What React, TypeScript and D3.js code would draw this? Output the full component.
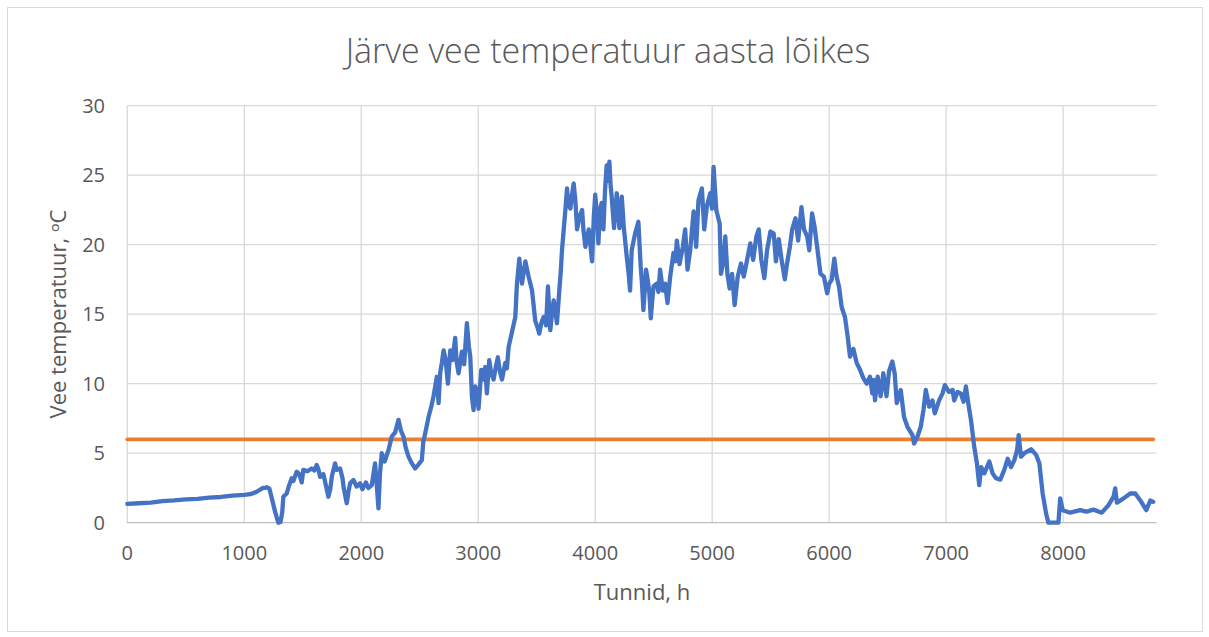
import React from "react";
import * as d3 from "d3";

const hours = [
  0, 100, 200, 300, 400, 500, 600, 700, 800, 900, 1000, 1050, 1100, 1120, 1150, 1160, 1180, 1190, 1215, 1240,
  1260, 1280, 1291, 1310, 1325, 1334, 1363, 1380, 1405, 1420, 1448, 1470, 1491, 1505, 1540, 1576, 1600, 1619, 1635, 1648,
  1676, 1700, 1719, 1735, 1748, 1776, 1790, 1819, 1840, 1850, 1876, 1890, 1905, 1933, 1960, 1990, 2010, 2040, 2060, 2090,
  2118, 2130, 2147, 2160, 2175, 2200, 2232, 2261, 2290, 2318, 2340, 2361, 2380, 2404, 2430, 2461, 2490, 2518, 2530, 2546,
  2575, 2600, 2618, 2646, 2661, 2675, 2689, 2704, 2720, 2741, 2761, 2780, 2803, 2815, 2832, 2860, 2880, 2903, 2920, 2932,
  2946, 2960, 2975, 2990, 3003, 3026, 3045, 3060, 3074, 3094, 3110, 3131, 3150, 3168, 3185, 3203, 3231, 3245, 3260, 3288,
  3317, 3331, 3351, 3362, 3374, 3403, 3431, 3460, 3488, 3505, 3522, 3540, 3559, 3580, 3596, 3616, 3630, 3645, 3673, 3693,
  3705, 3716, 3730, 3745, 3759, 3770, 3788, 3800, 3816, 3830, 3845, 3865, 3888, 3900, 3916, 3930, 3945, 3973, 3988, 4000,
  4015, 4027, 4041, 4055, 4070, 4084, 4098, 4110, 4121, 4132, 4141, 4161, 4172, 4184, 4207, 4227, 4245, 4270, 4285, 4298,
  4312, 4341, 4369, 4389, 4400, 4412, 4435, 4450, 4463, 4475, 4498, 4526, 4540, 4555, 4578, 4598, 4618, 4641, 4669, 4685,
  4698, 4721, 4749, 4769, 4789, 4812, 4841, 4863, 4883, 4912, 4932, 4955, 4983, 4998, 5012, 5035, 5064, 5075, 5098, 5112,
  5130, 5149, 5170, 5192, 5218, 5246, 5270, 5298, 5326, 5350, 5378, 5398, 5420, 5446, 5469, 5498, 5526, 5545, 5569, 5598,
  5621, 5640, 5664, 5684, 5712, 5735, 5763, 5785, 5812, 5830, 5854, 5875, 5897, 5926, 5955, 5983, 6000, 6021, 6044, 6064,
  6084, 6107, 6135, 6158, 6178, 6207, 6235, 6264, 6292, 6321, 6349, 6369, 6380, 6392, 6415, 6440, 6463, 6490, 6512, 6540,
  6560, 6578, 6612, 6640, 6669, 6712, 6726, 6755, 6783, 6806, 6826, 6855, 6883, 6903, 6940, 6969, 6989, 7026, 7055, 7069,
  7097, 7125, 7149, 7169, 7189, 7212, 7240, 7263, 7283, 7300, 7326, 7369, 7397, 7426, 7463, 7497, 7526, 7555, 7583, 7606,
  7620, 7640, 7668, 7726, 7768, 7797, 7825, 7854, 7874, 7960, 7975, 7997, 8060, 8145, 8200, 8260, 8331, 8388, 8431, 8445,
  8460, 8517, 8574, 8617, 8660, 8711, 8745, 8770,
];

const temps = [
  1.35, 1.4, 1.45, 1.55, 1.6, 1.68, 1.72, 1.8, 1.85, 1.95, 2.0, 2.05, 2.2, 2.3, 2.45, 2.5, 2.5, 2.55, 2.45, 1.6,
  0.9, 0.3, 0.0, 0.05, 0.8, 1.87, 2.1, 2.6, 3.2, 3.0, 3.67, 3.5, 2.9, 3.8, 3.7, 3.9, 3.75, 4.15, 3.8, 3.3,
  3.5, 2.6, 1.87, 2.4, 3.3, 4.27, 3.8, 3.9, 3.2, 2.5, 1.4, 2.2, 2.83, 3.07, 2.6, 2.83, 2.4, 2.9, 2.5, 2.7,
  4.27, 3.0, 1.03, 3.5, 5.0, 4.4, 5.2, 6.2, 6.5, 7.4, 6.6, 6.2, 5.4, 4.75, 4.3, 3.9, 4.2, 4.5, 5.8, 6.4,
  7.6, 8.4, 9.1, 10.5, 8.6, 10.8, 11.5, 12.4, 11.8, 10.0, 12.4, 11.7, 13.3, 11.6, 10.75, 12.3, 11.4, 14.35, 12.7, 11.95,
  9.07, 8.1, 9.8, 9.4, 8.2, 11.0, 10.3, 11.2, 9.3, 11.7, 10.8, 10.3, 11.2, 11.9, 10.9, 10.3, 11.5, 11.1, 12.65, 13.7,
  14.8, 17.2, 19.0, 18.1, 17.2, 18.8, 17.7, 16.7, 14.5, 14.1, 13.6, 14.4, 14.8, 14.2, 17.0, 13.85, 15.0, 16.0, 14.35, 16.7,
  18.0, 19.6, 21.0, 22.5, 24.05, 22.9, 22.6, 23.5, 24.4, 23.2, 21.1, 22.0, 22.5, 21.0, 19.85, 20.5, 21.1, 18.8, 22.0, 23.6,
  22.2, 20.1, 22.5, 23.0, 21.1, 23.9, 25.7, 24.6, 25.97, 24.2, 23.45, 21.2, 22.3, 23.7, 21.2, 23.45, 21.2, 19.1, 18.0, 16.7,
  19.6, 20.8, 21.65, 18.4, 17.2, 15.3, 18.2, 17.4, 16.5, 14.7, 17.0, 17.2, 16.6, 18.2, 16.7, 17.2, 15.8, 17.7, 19.4, 18.8,
  20.3, 18.6, 19.85, 21.1, 18.2, 19.6, 22.4, 19.85, 23.2, 24.05, 21.1, 22.8, 23.7, 22.6, 25.6, 22.5, 21.5, 17.9, 18.9, 20.6,
  17.9, 16.85, 17.9, 15.66, 17.7, 18.65, 17.7, 18.9, 20.1, 18.9, 20.6, 21.1, 18.9, 17.6, 19.6, 20.95, 20.8, 18.8, 20.4, 18.65,
  17.5, 18.65, 19.85, 21.1, 21.9, 20.3, 22.7, 21.1, 20.6, 19.6, 22.25, 21.3, 19.85, 17.9, 17.7, 16.5, 17.2, 17.46, 19.0, 17.7,
  17.0, 15.5, 14.8, 13.4, 11.95, 12.5, 11.5, 11.0, 10.4, 10.0, 10.5, 9.3, 10.27, 8.8, 10.5, 9.1, 10.75, 9.1, 10.9, 11.6,
  10.75, 8.6, 9.55, 7.6, 6.9, 6.3, 5.7, 6.2, 6.9, 8.1, 9.55, 8.35, 8.8, 7.87, 8.8, 9.3, 9.9, 9.4, 9.55, 8.8,
  9.4, 9.3, 8.7, 9.8, 8.6, 7.4, 5.47, 4.27, 2.7, 4.0, 3.55, 4.4, 3.55, 3.2, 3.1, 3.8, 4.6, 4.0, 4.5, 5.2,
  6.3, 4.75, 5.0, 5.28, 4.9, 4.27, 2.1, 0.68, 0.0, 0.0, 1.75, 0.9, 0.72, 0.9, 0.8, 0.94, 0.72, 1.27, 1.87, 2.47,
  1.44, 1.75, 2.1, 2.1, 1.6, 0.9, 1.6, 1.5,
];

const thresholdHours = [0, 8770];
const thresholdTemps = [6, 6];

const xTicks = [0, 1000, 2000, 3000, 4000, 5000, 6000, 7000, 8000];
const yTicks = [0, 5, 10, 15, 20, 25, 30];

const titleText = "Järve vee temperatuur aasta lõikes";
const xTitle = "Tunnid, h";
const yTitle = "Vee temperatuur, ᵒC";

const W = 1209;
const H = 637;
const left = 127.3;
const right = 1156.7;
const top = 105.7;
const bottom = 522.7;
const FONT = "'Open Sans', 'Noto Sans', sans-serif";
const TEXT = "#595959";

export default function App() {
  const x = d3.scaleLinear().domain([0, 8800]).range([left, right]);
  const y = d3.scaleLinear().domain([0, 30]).range([bottom, top]);

  const series = hours.map((h, i) => [h, temps[i]] as [number, number]);
  const thr = thresholdHours.map((h, i) => [h, thresholdTemps[i]] as [number, number]);
  const line = d3
    .line<[number, number]>()
    .x((d) => x(d[0]))
    .y((d) => y(d[1]));

  return (
    <svg
      width={W}
      height={H}
      style={{ position: "absolute", left: 0, top: 0, background: "#fff" }}
      fontFamily={FONT}
    >
      <rect x={0} y={0} width={W} height={H} fill="#fff" />
      <rect x={7.5} y={7.5} width={1195} height={624} fill="none" stroke="#D9D9D9" strokeWidth={1} />
      {yTicks.map((t) =>
        t === 0 ? null : (
          <line key={"gy" + t} x1={left} x2={right} y1={y(t)} y2={y(t)} stroke="#D9D9D9" strokeWidth={1.3} />
        )
      )}
      {xTicks.map((t) => (
        <line key={"gx" + t} x1={x(t)} x2={x(t)} y1={top} y2={bottom} stroke="#D9D9D9" strokeWidth={1.3} />
      ))}
      <line x1={left} x2={right} y1={bottom} y2={bottom} stroke="#BFBFBF" strokeWidth={1.3} />

      <path d={line(thr) || ""} fill="none" stroke="#ED7D31" strokeWidth={3.8} strokeLinecap="round" />
      <path
        d={line(series) || ""}
        fill="none"
        stroke="#4472C4"
        strokeWidth={4.3}
        strokeLinejoin="round"
        strokeLinecap="round"
      />

      {yTicks.map((t) => (
        <text key={"ty" + t} x={105} y={y(t)} dy="0.35em" textAnchor="end" fontSize={20} fill={TEXT}>
          {t}
        </text>
      ))}
      {xTicks.map((t) => (
        <text key={"tx" + t} x={x(t)} y={553} dy="0.35em" textAnchor="middle" fontSize={20} fill={TEXT}>
          {t}
        </text>
      ))}

      <text x={608} y={63} textAnchor="middle" fontSize={34} fontWeight={300} fill={TEXT}>
        {titleText}
      </text>
      <text x={642} y={600} textAnchor="middle" fontSize={22} fill={TEXT}>
        {xTitle}
      </text>
      <text
        transform={`translate(66, 314) rotate(-90)`}
        textAnchor="middle"
        fontSize={22}
        fill={TEXT}
      >
        {yTitle}
      </text>
    </svg>
  );
}
